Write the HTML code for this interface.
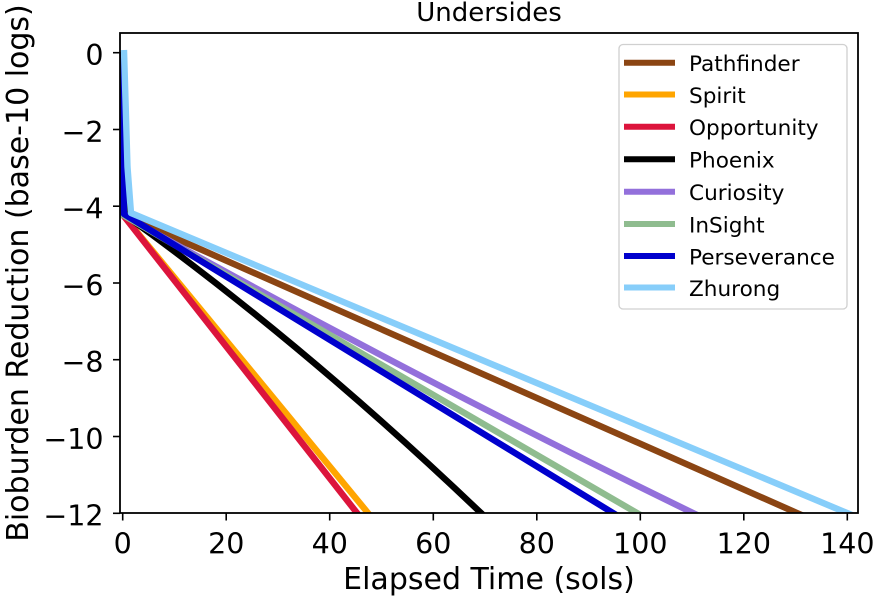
<!DOCTYPE html>
<html>
<head>
<meta charset="utf-8">
<style>
html,body{margin:0;padding:0;background:#fff;}
svg{display:block;}
text{font-family:"DejaVu Sans","Liberation Sans",sans-serif;fill:#000;}
</style>
</head>
<body>
<svg width="877" height="599" viewBox="0 0 877 599" xmlns="http://www.w3.org/2000/svg">
<defs>
<clipPath id="ax"><rect x="120" y="33" width="738" height="480"/></clipPath>
</defs>
<rect x="0" y="0" width="877" height="599" fill="#fff"/>

<!-- series -->
<g clip-path="url(#ax)" fill="none" stroke-width="6.4" stroke-linejoin="round" stroke-linecap="butt">
<path stroke="#8B4513" d="M122,52 L122.5,170 L123,215 L797,513 L807,517.4"/>
<path stroke="#FFA500" d="M122,52 L122.5,170 L123,215 L368,513 L372,518"/>
<path stroke="#DC143C" d="M122,52 L122.5,170 L123,215 L357,513 L361,518"/>
<path stroke="#000000" d="M122,52 L122.5,170 L125,215 Q303,343.2 481,513 L486,517.8"/>
<path stroke="#9370DB" d="M122,52 L122.5,170 L123,215 Q408,374.6 693,513 L703,517.9"/>
<path stroke="#8FBC8F" d="M122,52 L122.5,170 L123,215 L637,513 L645,517.6"/>
<path stroke="#0000CD" d="M122,52 L123,170 L124,214 L613,513 L621,517.9"/>
<path stroke="#87CEFA" d="M124,50 L127.5,167 L131,213 L847,513 L857,517.2"/>
</g>

<!-- spines -->
<rect x="120" y="33" width="738" height="480" fill="none" stroke="#000" stroke-width="1.8"/>

<!-- y ticks -->
<g stroke="#000" stroke-width="1.6">
<line x1="113" y1="52.7" x2="120" y2="52.7"/>
<line x1="113" y1="129.5" x2="120" y2="129.5"/>
<line x1="113" y1="206.2" x2="120" y2="206.2"/>
<line x1="113" y1="283" x2="120" y2="283"/>
<line x1="113" y1="359.7" x2="120" y2="359.7"/>
<line x1="113" y1="436.5" x2="120" y2="436.5"/>
<line x1="113" y1="513.3" x2="120" y2="513.3"/>
</g>
<g font-size="28.5" text-anchor="end">
<text x="103.5" y="65">0</text>
<text x="103.5" y="141.8">−2</text>
<text x="103.5" y="218.5">−4</text>
<text x="103.5" y="295.3">−6</text>
<text x="103.5" y="372">−8</text>
<text x="103.5" y="448.8">−10</text>
<text x="103.5" y="525.6">−12</text>
</g>

<!-- x ticks -->
<g stroke="#000" stroke-width="1.6">
<line x1="122.7" y1="513" x2="122.7" y2="520.5"/>
<line x1="226.2" y1="513" x2="226.2" y2="520.5"/>
<line x1="329.7" y1="513" x2="329.7" y2="520.5"/>
<line x1="433.3" y1="513" x2="433.3" y2="520.5"/>
<line x1="536.8" y1="513" x2="536.8" y2="520.5"/>
<line x1="640.3" y1="513" x2="640.3" y2="520.5"/>
<line x1="743.8" y1="513" x2="743.8" y2="520.5"/>
<line x1="847.3" y1="513" x2="847.3" y2="520.5"/>
</g>
<g font-size="28.5" text-anchor="middle">
<text x="122.7" y="553.3">0</text>
<text x="226.2" y="553.3">20</text>
<text x="329.7" y="553.3">40</text>
<text x="433.3" y="553.3">60</text>
<text x="536.8" y="553.3">80</text>
<text x="640.3" y="553.3">100</text>
<text x="743.8" y="553.3">120</text>
<text x="847.3" y="553.3">140</text>
</g>

<!-- axis labels -->
<text x="489" y="589" font-size="30" text-anchor="middle">Elapsed Time (sols)</text>
<text transform="translate(28,273) rotate(-90)" font-size="30" text-anchor="middle">Bioburden Reduction (base-10 logs)</text>
<text x="489" y="21" font-size="26" text-anchor="middle">Undersides</text>

<!-- legend -->
<rect x="619" y="44.5" width="228" height="264.5" rx="4" ry="4" fill="#fff" fill-opacity="0.8" stroke="#d0d0d0" stroke-width="1.3"/>
<g stroke-width="6" fill="none">
<line x1="624" y1="62.7" x2="675" y2="62.7" stroke="#8B4513"/>
<line x1="624" y1="94.5" x2="675" y2="94.5" stroke="#FFA500"/>
<line x1="624" y1="126.7" x2="675" y2="126.7" stroke="#DC143C"/>
<line x1="624" y1="159.3" x2="675" y2="159.3" stroke="#000000"/>
<line x1="624" y1="191.7" x2="675" y2="191.7" stroke="#9370DB"/>
<line x1="624" y1="224" x2="675" y2="224" stroke="#8FBC8F"/>
<line x1="624" y1="256" x2="675" y2="256" stroke="#0000CD"/>
<line x1="624" y1="287.5" x2="675" y2="287.5" stroke="#87CEFA"/>
</g>
<g font-size="21.6">
<text x="689" y="71">Pathfinder</text>
<text x="689" y="102.8">Spirit</text>
<text x="689" y="135">Opportunity</text>
<text x="689" y="167.6">Phoenix</text>
<text x="689" y="200">Curiosity</text>
<text x="689" y="232.3">InSight</text>
<text x="689" y="264.3">Perseverance</text>
<text x="689" y="295.8">Zhurong</text>
</g>
</svg>
</body>
</html>
